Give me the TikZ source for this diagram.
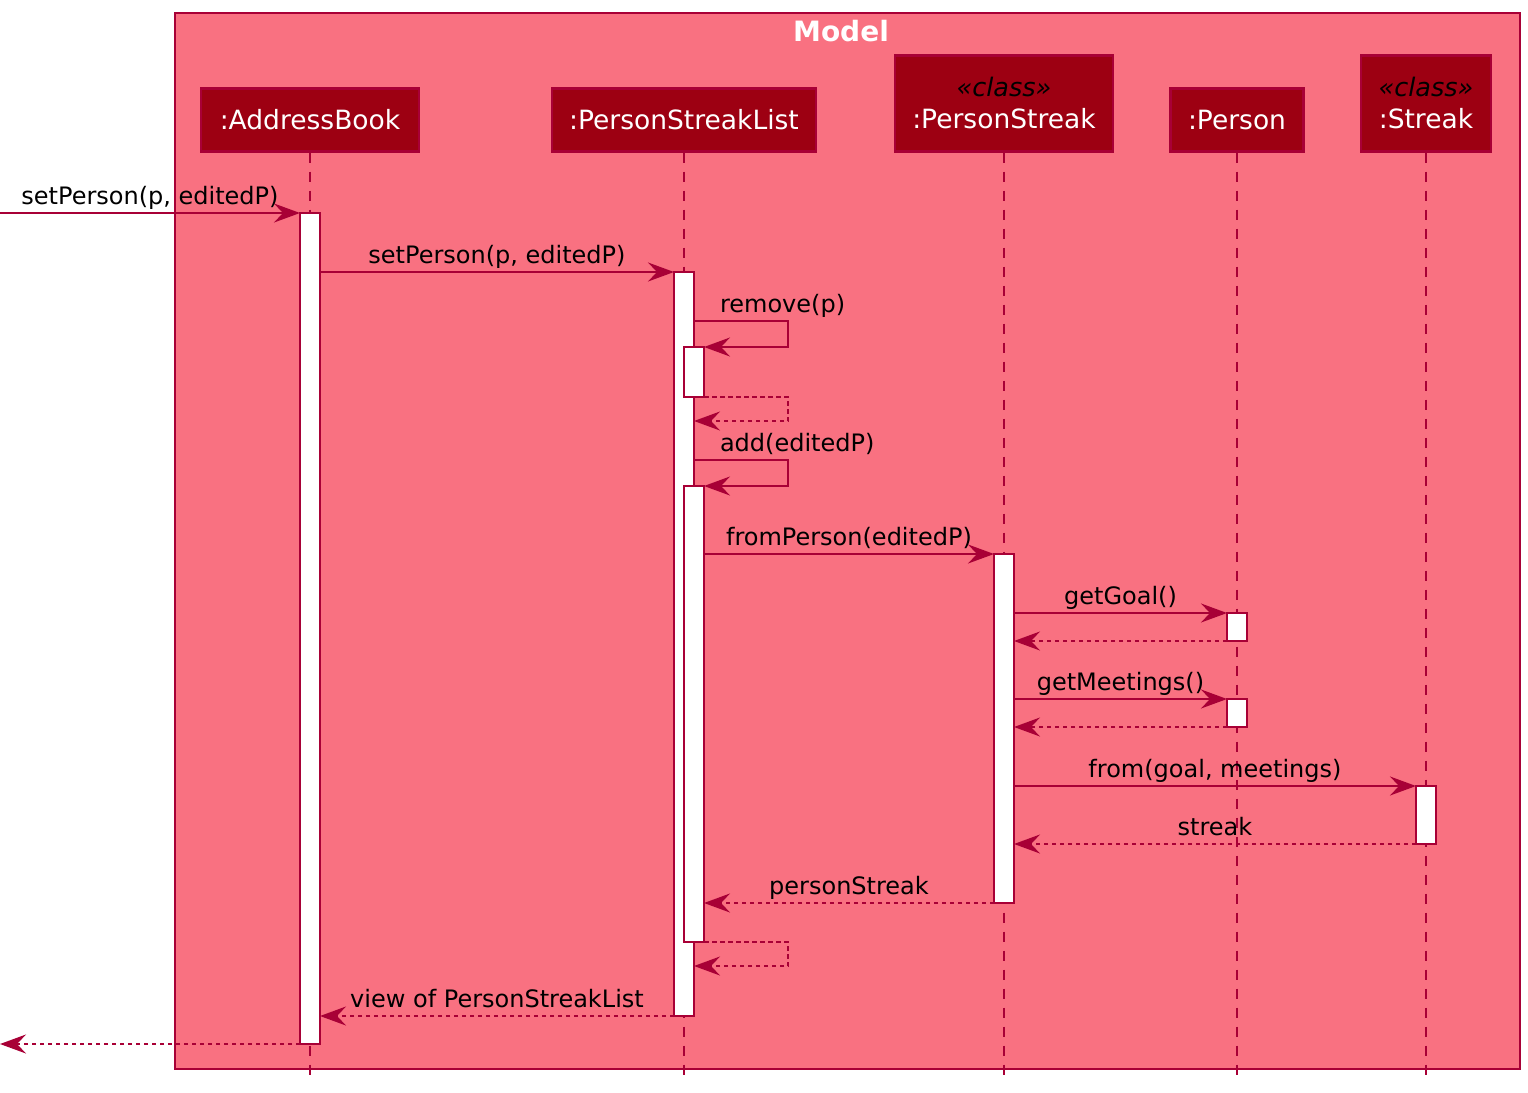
\documentclass[tikz,border=0pt]{standalone}
\usepackage{fontspec}
\setmainfont{DejaVu Sans}
\usetikzlibrary{arrows.meta,calc}
\definecolor{modelbg}{HTML}{F97181}
\definecolor{partfill}{HTML}{9D0012}
\definecolor{umlline}{HTML}{A80036}
\begin{document}
\begin{tikzpicture}[x=1pt,y=-1pt,
  part/.style={draw=umlline, line width=2.5pt, fill=partfill, text=white, inner sep=0pt,
    font=\fontsize{26.5}{32}\selectfont, align=center, anchor=north},
  act/.style={draw=umlline, line width=2pt, fill=white, minimum width=20pt, inner sep=0pt, outer sep=0pt, anchor=north},
  lifeline/.style={draw=umlline, line width=2pt, dash pattern=on 10pt off 9pt},
  msg/.style={draw=umlline, line width=2pt, -{Stealth[length=26pt,width=19pt,inset=9pt]}},
  ret/.style={msg, dash pattern=on 4.5pt off 3.5pt},
  lbl/.style={font=\fontsize{24}{28}\selectfont, text=black, inner sep=0pt, anchor=base, yshift=9pt}
]
\useasboundingbox (0,0) rectangle (1528,1092);

% frame
\node[draw=umlline, line width=2pt, fill=modelbg, minimum width=1345, minimum height=1056,
  anchor=north west, inner sep=0pt] (model) at (174,12) {};
\node[anchor=base, font=\bfseries\fontsize{28}{32}\selectfont, text=white, inner sep=0pt] (title) at (841,41) {Model};

% participants
\node[part, minimum width=218, minimum height=63] (pAB) at (310,87) {:AddressBook};
\node[part, minimum width=264, minimum height=63] (pPSL) at (684,87) {:PersonStreakList};
\node[part, minimum width=218, minimum height=96] (pPS) at (1004,54) {{\color{black}\itshape\fontsize{25.5}{32}\selectfont «class»}\\:PersonStreak};
\node[part, minimum width=133, minimum height=63] (pP) at (1237,87) {:Person};
\node[part, minimum width=130, minimum height=96] (pS) at (1426,54) {{\color{black}\itshape\fontsize{25.5}{32}\selectfont «class»}\\:Streak};

\coordinate (lin) at (0,213);
\coordinate (lout) at (0,1044);
\coordinate (bot) at (0,1080);

% lifelines
\foreach \p in {pAB,pPSL,pPS,pP,pS} \draw[lifeline] (\p.south) -- (\p.south |- bot);

% activations
\node[act, minimum height=831] (aAB) at (310,213) {};
\node[act, minimum height=744] (aPSL) at (684,272) {};
\node[act, minimum height=50] (aRm) at (694,347) {};
\node[act, minimum height=456] (aAdd) at (694,486) {};
\node[act, minimum height=349] (aPS) at (1004,554) {};
\node[act, minimum height=28] (aG) at (1237,613) {};
\node[act, minimum height=28] (aM) at (1237,699) {};
\node[act, minimum height=58] (aSt) at (1426,786) {};

% messages
\draw[msg] (lin |- aAB.north) -- node[lbl]{setPerson(p, editedP)} (aAB.north west);
\draw[msg] (aAB.east |- aPSL.north) -- node[lbl]{setPerson(p, editedP)} (aPSL.north west);
\draw[msg] ($(aRm.north -| aPSL.east)+(0,-26)$) node[lbl, anchor=base west, xshift=25pt]{remove(p)}
  -- ++(94,0) |- (aRm.north east);
\draw[ret] (aRm.south east) -- ++(84,0) |- ($(aRm.south -| aPSL.east)+(0,24)$);
\draw[msg] ($(aAdd.north -| aPSL.east)+(0,-26)$) node[lbl, anchor=base west, xshift=25pt]{add(editedP)}
  -- ++(94,0) |- (aAdd.north east);
\draw[msg] (aAdd.east |- aPS.north) -- node[lbl]{fromPerson(editedP)} (aPS.north west);
\draw[msg] (aPS.east |- aG.north) -- node[lbl]{getGoal()} (aG.north west);
\draw[ret] (aG.south west) -- (aG.south -| aPS.east);
\draw[msg] (aPS.east |- aM.north) -- node[lbl]{getMeetings()} (aM.north west);
\draw[ret] (aM.south west) -- (aM.south -| aPS.east);
\draw[msg] (aPS.east |- aSt.north) -- node[lbl]{from(goal, meetings)} (aSt.north west);
\draw[ret] (aSt.south west) -- node[lbl]{streak} (aSt.south -| aPS.east);
\draw[ret] (aPS.south west) -- node[lbl]{personStreak} (aPS.south -| aAdd.east);
\draw[ret] (aAdd.south east) -- ++(84,0) |- ($(aAdd.south -| aPSL.east)+(0,24)$);
\draw[ret] (aPSL.south west) -- node[lbl]{view of PersonStreakList} (aPSL.south -| aAB.east);
\draw[ret] (aAB.south west) -- (lout |- aAB.south west);
\end{tikzpicture}
\end{document}
